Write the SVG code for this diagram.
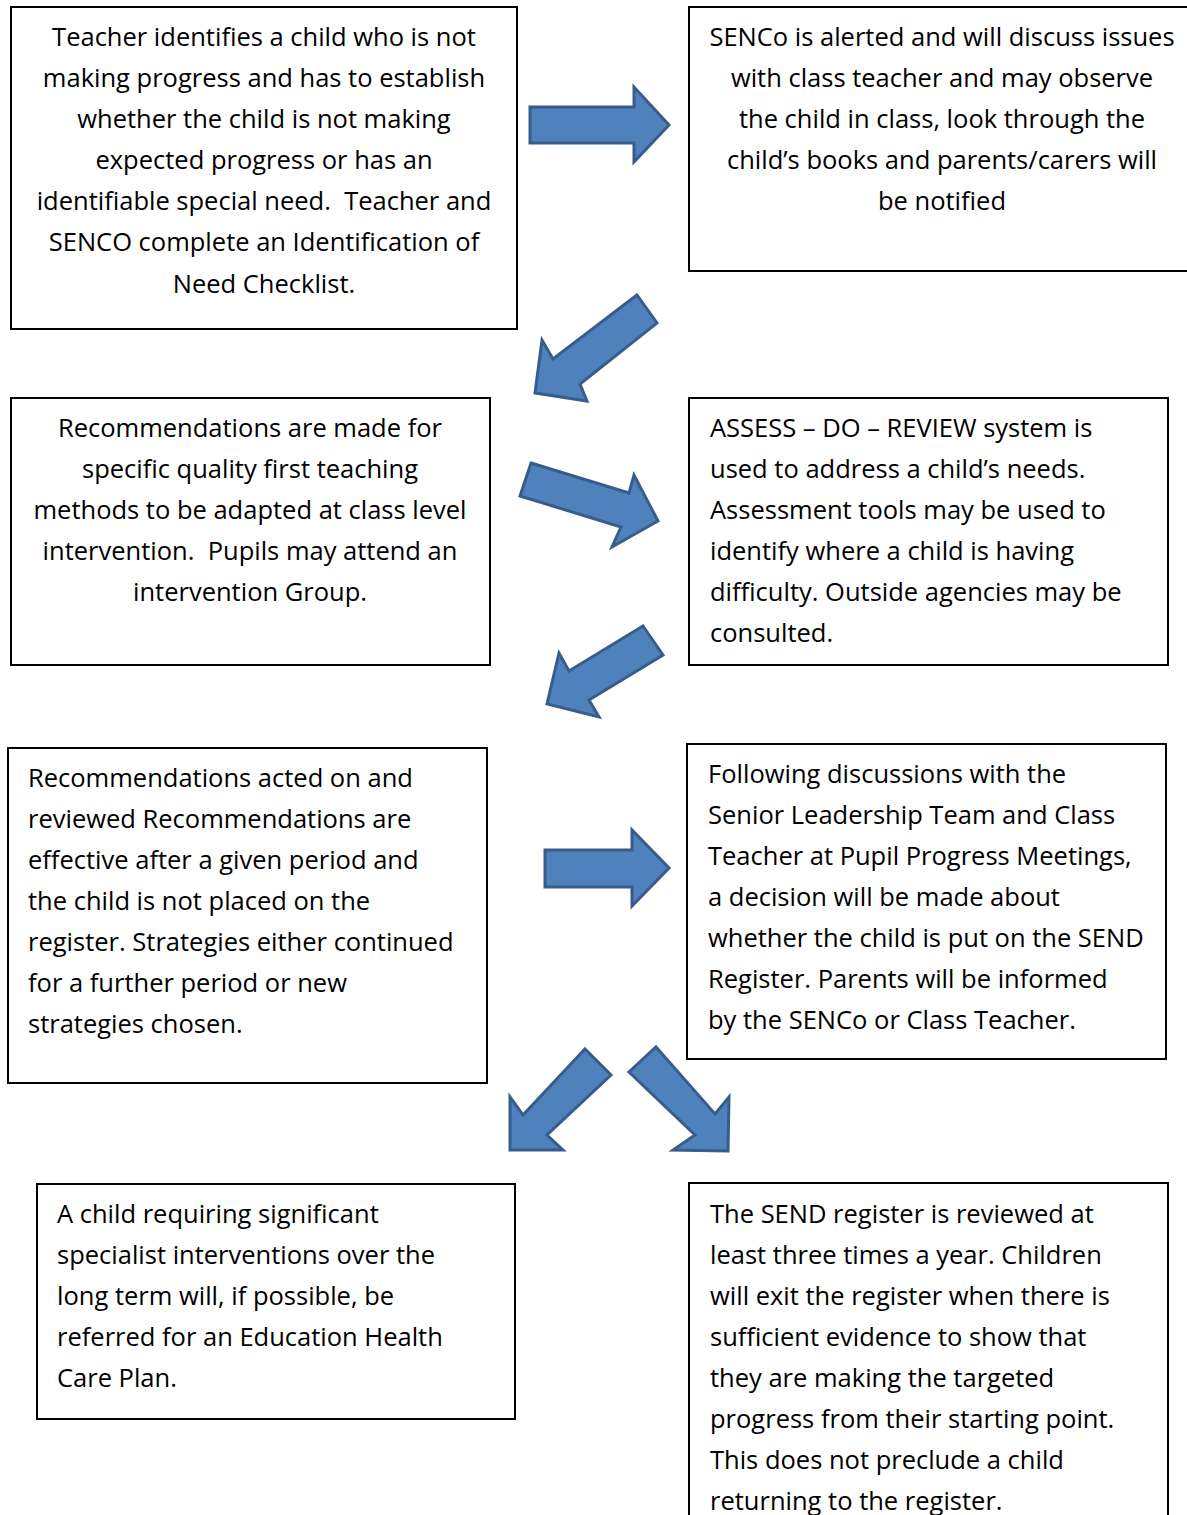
<svg xmlns="http://www.w3.org/2000/svg" width="1187" height="1515" viewBox="0 0 1187 1515">
<style>
.box{fill:#fff;stroke:#000;stroke-width:2}
.t{font-family:"Open Sans",Lato,sans-serif;font-size:25.5px;fill:#000;white-space:pre}
.c{text-anchor:middle}
.arrow{fill:#4F81BD;stroke:#385D8A;stroke-width:3;stroke-linejoin:miter}
</style>
<rect width="1187" height="1515" fill="#fff"/>
<g id="connectors">
<polygon class="arrow" points="530,107 634,107 634,87 669,125 634,162 634,143 530,143"/>
<polygon class="arrow" points="637,295 657,323 580,384 587,401 535,393 542,340 553,359"/>
<polygon class="arrow" points="531,463 629,493 634,475 658,521 612,547 621,527 520,496"/>
<polygon class="arrow" points="643,626 663,655 589,700 599,717 547,704 559,653 569,671"/>
<polygon class="arrow" points="545,850 632,850 632,830 669,868 632,906 632,887 545,887"/>
<polygon class="arrow" points="585,1049 611,1075 547,1135 563,1150 510,1150 510,1097 523,1115"/>
<polygon class="arrow" points="656,1047 715,1114 729,1097 728,1151 673,1150 695,1135 629,1072"/>
</g>
<g id="node1">
<rect class="box" x="11" y="7" width="506" height="322"/>
<text class="t c" x="264" y="46">Teacher identifies a child who is not</text>
<text class="t c" x="264" y="87">making progress and has to establish</text>
<text class="t c" x="264" y="128">whether the child is not making</text>
<text class="t c" x="264" y="169">expected progress or has an</text>
<text class="t c" x="264" y="210">identifiable special need.  Teacher and</text>
<text class="t c" x="264" y="251">SENCO complete an Identification of</text>
<text class="t c" x="264" y="293">Need Checklist.</text>
</g>
<g id="node2">
<rect class="box" x="689" y="7" width="510" height="264"/>
<text class="t c" x="942" y="46">SENCo is alerted and will discuss issues</text>
<text class="t c" x="942" y="87">with class teacher and may observe</text>
<text class="t c" x="942" y="128">the child in class, look through the</text>
<text class="t c" x="942" y="169">child’s books and parents/carers will</text>
<text class="t c" x="942" y="210">be notified</text>
</g>
<g id="node3">
<rect class="box" x="11" y="398" width="479" height="267"/>
<text class="t c" x="250" y="437">Recommendations are made for</text>
<text class="t c" x="250" y="478">specific quality first teaching</text>
<text class="t c" x="250" y="519">methods to be adapted at class level</text>
<text class="t c" x="250" y="560">intervention.  Pupils may attend an</text>
<text class="t c" x="250" y="601">intervention Group.</text>
</g>
<g id="node4">
<rect class="box" x="689" y="398" width="479" height="267"/>
<text class="t" x="710" y="437">ASSESS – DO – REVIEW system is</text>
<text class="t" x="710" y="478">used to address a child’s needs.</text>
<text class="t" x="710" y="519">Assessment tools may be used to</text>
<text class="t" x="710" y="560">identify where a child is having</text>
<text class="t" x="710" y="601">difficulty. Outside agencies may be</text>
<text class="t" x="710" y="642">consulted.</text>
</g>
<g id="node5">
<rect class="box" x="8" y="748" width="479" height="335"/>
<text class="t" x="28" y="787">Recommendations acted on and</text>
<text class="t" x="28" y="828">reviewed Recommendations are</text>
<text class="t" x="28" y="869">effective after a given period and</text>
<text class="t" x="28" y="910">the child is not placed on the</text>
<text class="t" x="28" y="951">register. Strategies either continued</text>
<text class="t" x="28" y="992">for a further period or new</text>
<text class="t" x="28" y="1033">strategies chosen.</text>
</g>
<g id="node6">
<rect class="box" x="687" y="744" width="479" height="315"/>
<text class="t" x="708" y="783">Following discussions with the</text>
<text class="t" x="708" y="824">Senior Leadership Team and Class</text>
<text class="t" x="708" y="865">Teacher at Pupil Progress Meetings,</text>
<text class="t" x="708" y="906">a decision will be made about</text>
<text class="t" x="708" y="947">whether the child is put on the SEND</text>
<text class="t" x="708" y="988">Register. Parents will be informed</text>
<text class="t" x="708" y="1029">by the SENCo or Class Teacher.</text>
</g>
<g id="node7">
<rect class="box" x="37" y="1184" width="478" height="235"/>
<text class="t" x="57" y="1223">A child requiring significant</text>
<text class="t" x="57" y="1264">specialist interventions over the</text>
<text class="t" x="57" y="1305">long term will, if possible, be</text>
<text class="t" x="57" y="1346">referred for an Education Health</text>
<text class="t" x="57" y="1387">Care Plan.</text>
</g>
<g id="node8">
<rect class="box" x="689" y="1183" width="479" height="360"/>
<text class="t" x="710" y="1223">The SEND register is reviewed at</text>
<text class="t" x="710" y="1264">least three times a year. Children</text>
<text class="t" x="710" y="1305">will exit the register when there is</text>
<text class="t" x="710" y="1346">sufficient evidence to show that</text>
<text class="t" x="710" y="1387">they are making the targeted</text>
<text class="t" x="710" y="1428">progress from their starting point.</text>
<text class="t" x="710" y="1469">This does not preclude a child</text>
<text class="t" x="710" y="1510">returning to the register.</text>
</g>
</svg>
